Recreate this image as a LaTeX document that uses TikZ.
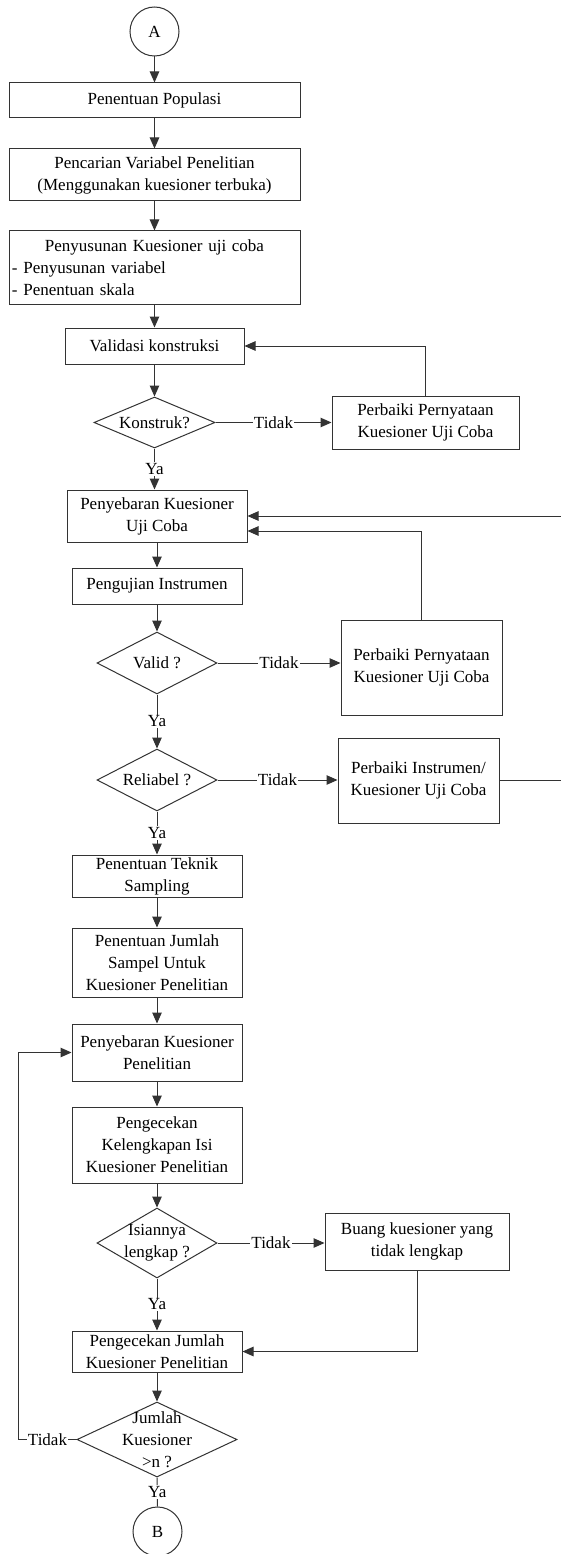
\documentclass[tikz,border=0pt]{standalone}
\usepackage{fontspec}
\setmainfont{Liberation Serif}
\usetikzlibrary{shapes.geometric,arrows.meta,calc}
\begin{document}
\begin{tikzpicture}[x=1pt,y=-1pt,
  every node/.style={font=\fontsize{17}{22}\selectfont, text=black},
  box/.style={draw=black!80, line width=1pt, rectangle, inner sep=2pt, align=center},
  conn/.style={draw=black!80, line width=1pt, circle, minimum size=49pt, inner sep=0pt},
  dia/.style={draw=black!80, line width=1pt, diamond, inner sep=0pt},
  lbl/.style={fill=white, inner sep=1pt},
  ln/.style={draw=black!80, line width=1pt},
  arr/.style={draw=black!80, line width=1pt, -{Triangle[length=11pt,width=9.5pt]}}
]
\useasboundingbox (0,0) rectangle (561,1554);
\clip (0,0) rectangle (561,1554);
\fill[white] (0,0) rectangle (561,1554);

% nodes
\node[conn] (A) at (154.5,31.5) {A};
\node[box, minimum width=291pt, minimum height=35pt] (b1) at (154.5,100.5) {Penentuan Populasi};
\node[box, minimum width=291pt, minimum height=52pt] (b2) at (154.5,175) {Pencarian Variabel Penelitian\\(Menggunakan kuesioner terbuka)};
\node[box, text width=285pt, inner xsep=3pt, minimum height=73pt, align=left] (b3) at (154.5,267.5)
  {\makebox[285pt]{Penyusunan Kuesioner uji coba}\\- Penyusunan variabel\\- Penentuan skala};
\node[box, minimum width=179pt, minimum height=36pt] (b4) at (154.5,346) {Validasi konstruksi};
\node[dia, minimum width=121pt, minimum height=51pt, label={center:Konstruk?}] (d1) at (154.5,422.5) {};
\node[box, minimum width=187pt, minimum height=53pt] (b5) at (425.5,422.5) {Perbaiki Pernyataan\\Kuesioner Uji Coba};
\node[box, minimum width=180pt, minimum height=52pt] (b6) at (157,516) {Penyebaran Kuesioner\\Uji Coba};
\node[box, minimum width=170pt, minimum height=36pt] (b7) at (157,586) {Pengujian Instrumen};
\node[dia, minimum width=120pt, minimum height=62pt, label={center:Valid ?}] (d2) at (157,663) {};
\node[box, minimum width=161pt, minimum height=95pt] (b8) at (421.5,667.5) {Perbaiki Pernyataan\\Kuesioner Uji Coba};
\node[dia, minimum width=120pt, minimum height=62pt, label={center:Reliabel ?}] (d3) at (157,780) {};
\node[box, minimum width=161pt, minimum height=85pt] (b9) at (418.5,780.5) {Perbaiki Instrumen/\\Kuesioner Uji Coba};
\node[box, minimum width=170pt, minimum height=42pt] (b10) at (157,876) {Penentuan Teknik\\Sampling};
\node[box, minimum width=170pt, minimum height=69pt] (b11) at (157,962.5) {Penentuan Jumlah\\Sampel Untuk\\Kuesioner Penelitian};
\node[box, minimum width=170pt, minimum height=57pt] (b12) at (157,1052.5) {Penyebaran Kuesioner\\Penelitian};
\node[box, minimum width=170pt, minimum height=76pt] (b13) at (157,1145) {Pengecekan\\Kelengkapan Isi\\Kuesioner Penelitian};
\node[dia, minimum width=120pt, minimum height=70pt, label={[align=center]center:Isiannya\\lengkap ?}] (d4) at (157,1243) {};
\node[box, minimum width=184pt, minimum height=57pt] (b14) at (417,1241.5) {Buang kuesioner yang\\tidak lengkap};
\node[box, minimum width=170pt, minimum height=41pt] (b15) at (157,1351.5) {Pengecekan Jumlah\\Kuesioner Penelitian};
\node[dia, minimum width=160pt, minimum height=75pt, label={[align=center]center:Jumlah\\Kuesioner\\>n ?}] (d5) at (157,1439.5) {};
\node[conn] (B) at (157.5,1531.5) {B};

% connectors
\draw[arr] (A) -- (b1);
\draw[arr] (b1) -- (b2);
\draw[arr] (b2) -- (b3);
\draw[arr] (b3) -- (b4);
\draw[arr] (b4) -- (d1);
\draw[arr] (d1.east) -- node[lbl]{Tidak} (b5.west);
\draw[arr] (b5.north) |- (b4.east);
\draw[arr] (d1.south) -- node[lbl]{Ya} (d1.south |- b6.north);
\draw[arr] (b6) -- (b7);
\draw[arr] (b7) -- (d2);
\draw[arr] (d2.east) -- node[lbl]{Tidak} (d2.east -| b8.west);
\draw[arr] (b8.north) |- ($(b6.east)+(0,15)$);
\draw[arr] (d2.south) -- node[lbl]{Ya} (d3.north);
\draw[arr] (d3.east) -- node[lbl]{Tidak} (d3.east -| b9.west);
\draw[arr] (b9.east) -- ++(70,0) |- (b6.east);
\draw[arr] (d3.south) -- node[lbl]{Ya} (b10.north);
\draw[arr] (b10) -- (b11);
\draw[arr] (b11) -- (b12);
\draw[arr] (b12) -- (b13);
\draw[arr] (b13) -- (d4);
\draw[arr] (d4.east) -- node[lbl]{Tidak} (d4.east -| b14.west);
\draw[arr] (b14.south) |- (b15.east);
\draw[arr] (d4.south) -- node[lbl]{Ya} (b15.north);
\draw[arr] (b15) -- (d5);
\draw[arr] (d5.west) -- node[lbl]{Tidak} ++(-58,0) |- (b12.west);
\draw[ln] (d5.south) -- node[lbl]{Ya} (B.north);
\end{tikzpicture}
\end{document}
